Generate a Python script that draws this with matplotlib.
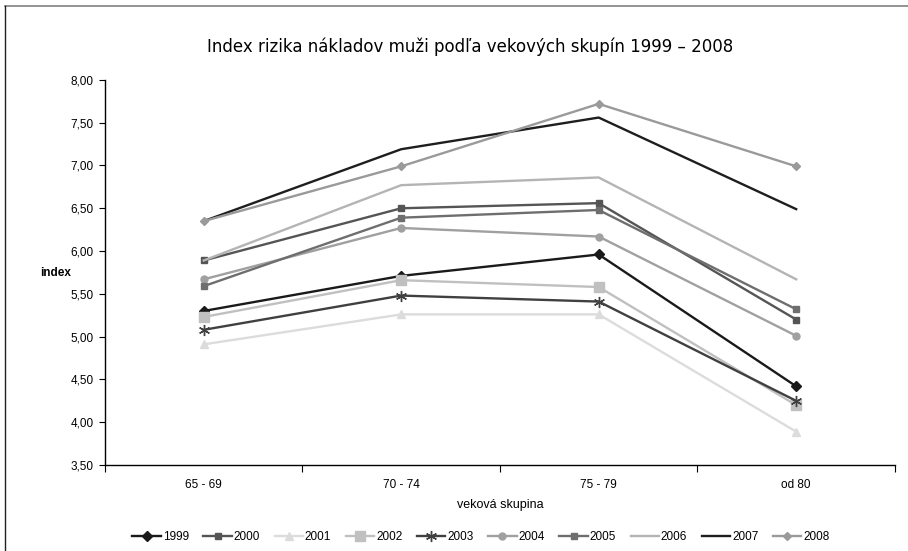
import matplotlib
matplotlib.use("Agg")
import matplotlib.pyplot as plt
from matplotlib.lines import Line2D
from matplotlib.ticker import FuncFormatter
import numpy as np

# veková skupina
groups = ["65 - 69", "70 - 74", "75 - 79", "od 80"]
years = ["1999", "2000", "2001", "2002", "2003", "2004", "2005", "2006", "2007", "2008"]

v1999 = [5.30, 5.71, 5.96, 4.42]
v2000 = [5.89, 6.50, 6.56, 5.20]
v2001 = [4.91, 5.26, 5.26, 3.89]
v2002 = [5.23, 5.66, 5.58, 4.20]
v2003 = [5.08, 5.48, 5.41, 4.25]
v2004 = [5.67, 6.27, 6.17, 5.01]
v2005 = [5.59, 6.39, 6.48, 5.32]
v2006 = [5.89, 6.77, 6.86, 5.67]
v2007 = [6.35, 7.19, 7.56, 6.49]
v2008 = [6.35, 6.99, 7.72, 6.99]
values = [v1999, v2000, v2001, v2002, v2003, v2004, v2005, v2006, v2007, v2008]

colors = ["#1a1a1a", "#555555", "#dcdcdc", "#c0c0c0", "#404040",
          "#a0a0a0", "#6e6e6e", "#b4b4b4", "#1e1e1e", "#9a9a9a"]
markers = ["D", "s", "^", "s", (6, 2, 0), "o", "s", None, None, "D"]
msizes = [5.5, 5, 6, 7, 8, 5, 5, 0, 0, 4]

plt.rcParams["font.family"] = ["Liberation Sans", "DejaVu Sans"]

fig = plt.figure(figsize=(9.08, 5.51), dpi=100)
ax = fig.add_axes([0.1156, 0.156, 0.870, 0.699])

x = np.arange(len(groups))
for yr, vals, c, m, ms in zip(years, values, colors, markers, msizes):
    ax.plot(x, vals, color=c, lw=1.7, marker=m, markersize=ms,
            markeredgecolor=c, markerfacecolor=c, markeredgewidth=1.0, label=yr)

ax.set_xlim(-0.5, len(groups) - 0.5)
ax.set_ylim(3.5, 8.0)
ax.set_yticks(np.arange(3.5, 8.01, 0.5))
ax.yaxis.set_major_formatter(FuncFormatter(lambda v, p: f"{v:.2f}".replace(".", ",")))
ax.set_xticks(np.arange(-0.5, len(groups), 1.0))
ax.set_xticklabels([])
ax.set_xticks(x, minor=True)
ax.set_xticklabels(groups, minor=True)
ax.tick_params(axis="x", which="minor", length=0, pad=10, labelsize=8.5)
ax.tick_params(axis="x", which="major", length=5, direction="out")
ax.tick_params(axis="y", length=4, direction="out", labelsize=8.5, pad=4)
for s in ["top", "right"]:
    ax.spines[s].set_visible(False)
ax.spines["left"].set_linewidth(1.0)
ax.spines["bottom"].set_linewidth(1.0)

ax.set_xlabel("veková skupina", fontsize=9, labelpad=6)
fig.text(0.044, 0.505, "index", fontsize=8.5, fontweight="bold", ha="left", va="center")

fig.text(0.518, 0.915, "Index rizika nákladov muži podľa vekových skupín 1999 – 2008",
         fontsize=12, family=["DejaVu Sans"], ha="center", va="center")

ax.legend(loc="center", bbox_to_anchor=(0.476, -0.186), ncol=10, frameon=False,
          fontsize=8.5, handlelength=2.4, handletextpad=0.15, columnspacing=1.25)

# ramček grafu
fig.add_artist(Line2D([5 / 908, 1.0], [1 - 6 / 551, 1 - 6 / 551], color="#808080", lw=1.2,
                      transform=fig.transFigure))
fig.add_artist(Line2D([5 / 908, 5 / 908], [0.0, 1 - 6 / 551], color="#202020", lw=1.0,
                      transform=fig.transFigure))

fig.savefig("out.png", dpi=100)
